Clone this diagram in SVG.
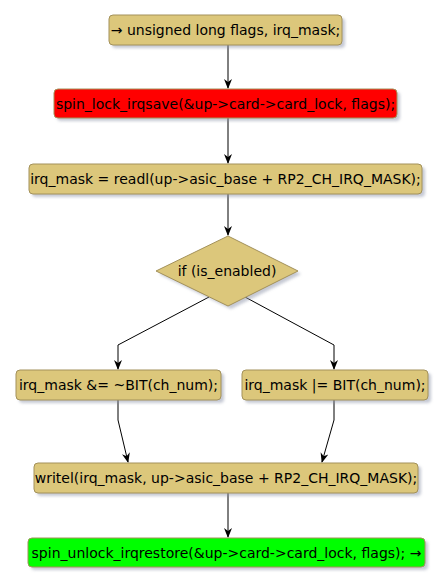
<svg xmlns="http://www.w3.org/2000/svg" width="446" height="587" viewBox="0 0 446 587">
<style>
.n{fill:#DCC77B;stroke:#A3915A;stroke-width:1}
.s{fill:#8C93A8;opacity:0.5}
.t{font-family:"DejaVu Sans",sans-serif;font-size:14px;fill:#000;text-anchor:middle}
.c{fill:none;stroke:#000;stroke-width:1}
</style>
<defs>
<marker id="a" viewBox="0 0 10 10" refX="9" refY="5" markerWidth="10" markerHeight="10" markerUnits="userSpaceOnUse" orient="auto">
<path d="M0,1 L10,5 L0,9 L3,5 Z" fill="#000"/>
</marker>
<filter id="sh" x="-10%" y="-10%" width="130%" height="150%"><feGaussianBlur stdDeviation="1.5"/></filter>
</defs>
<g id="connectors">
<path class="c" d="M228,45 V88" marker-end="url(#a)"/>
<path class="c" d="M228,118 V163" marker-end="url(#a)"/>
<path class="c" d="M228,194 V235" marker-end="url(#a)"/>
<path class="c" d="M209,297 L118,345 V369" marker-end="url(#a)"/>
<path class="c" d="M245,297 L334,345 V369" marker-end="url(#a)"/>
<path class="c" d="M118,400 V420 L128,462" marker-end="url(#a)"/>
<path class="c" d="M334,400 V420 L322,462" marker-end="url(#a)"/>
<path class="c" d="M228,493 V537" marker-end="url(#a)"/>
</g>
<g id="n1">
<rect class="s" filter="url(#sh)" x="112" y="18" width="233" height="30" rx="4"/>
<rect class="n" x="109" y="15" width="233" height="30" rx="4"/>
<text class="t" x="225.5" y="35">→ unsigned long flags, irq_mask;</text>
</g>
<g id="n2">
<rect class="s" filter="url(#sh)" x="57" y="92" width="343" height="29" rx="4"/>
<rect x="54" y="89" width="343" height="29" rx="4" fill="#FF0000" stroke="#A3915A"/>
<text class="t" x="225.5" y="108.5">spin_lock_irqsave(&amp;up-&gt;card-&gt;card_lock, flags);</text>
</g>
<g id="n3">
<rect class="s" filter="url(#sh)" x="32" y="167" width="393" height="30" rx="4"/>
<rect class="n" x="29" y="164" width="393" height="30" rx="4"/>
<text class="t" x="225.5" y="184">irq_mask = readl(up-&gt;asic_base + RP2_CH_IRQ_MASK);</text>
</g>
<g id="n4">
<polygon class="s" filter="url(#sh)" points="231,239 301,274 231,309 159,274"/>
<polygon class="n" points="228,236 298,271 228,306 156,271"/>
<text class="t" x="227" y="276">if (is_enabled)</text>
</g>
<g id="n5">
<rect class="s" filter="url(#sh)" x="19" y="373" width="205" height="30" rx="4"/>
<rect class="n" x="16" y="370" width="205" height="30" rx="4"/>
<text class="t" x="118.5" y="390">irq_mask &amp;= ~BIT(ch_num);</text>
</g>
<g id="n6">
<rect class="s" filter="url(#sh)" x="245" y="373" width="186" height="30" rx="4"/>
<rect class="n" x="242" y="370" width="186" height="30" rx="4"/>
<text class="t" x="335" y="390">irq_mask |= BIT(ch_num);</text>
</g>
<g id="n7">
<rect class="s" filter="url(#sh)" x="37" y="466" width="384" height="30" rx="4"/>
<rect class="n" x="34" y="463" width="384" height="30" rx="4"/>
<text class="t" x="226" y="483">writel(irq_mask, up-&gt;asic_base + RP2_CH_IRQ_MASK);</text>
</g>
<g id="n8">
<rect class="s" filter="url(#sh)" x="31" y="541" width="397" height="29" rx="4"/>
<rect x="28" y="538" width="397" height="29" rx="4" fill="#00FF00" stroke="#A3915A"/>
<text class="t" x="226.5" y="557.5">spin_unlock_irqrestore(&amp;up-&gt;card-&gt;card_lock, flags); →</text>
</g>
</svg>
